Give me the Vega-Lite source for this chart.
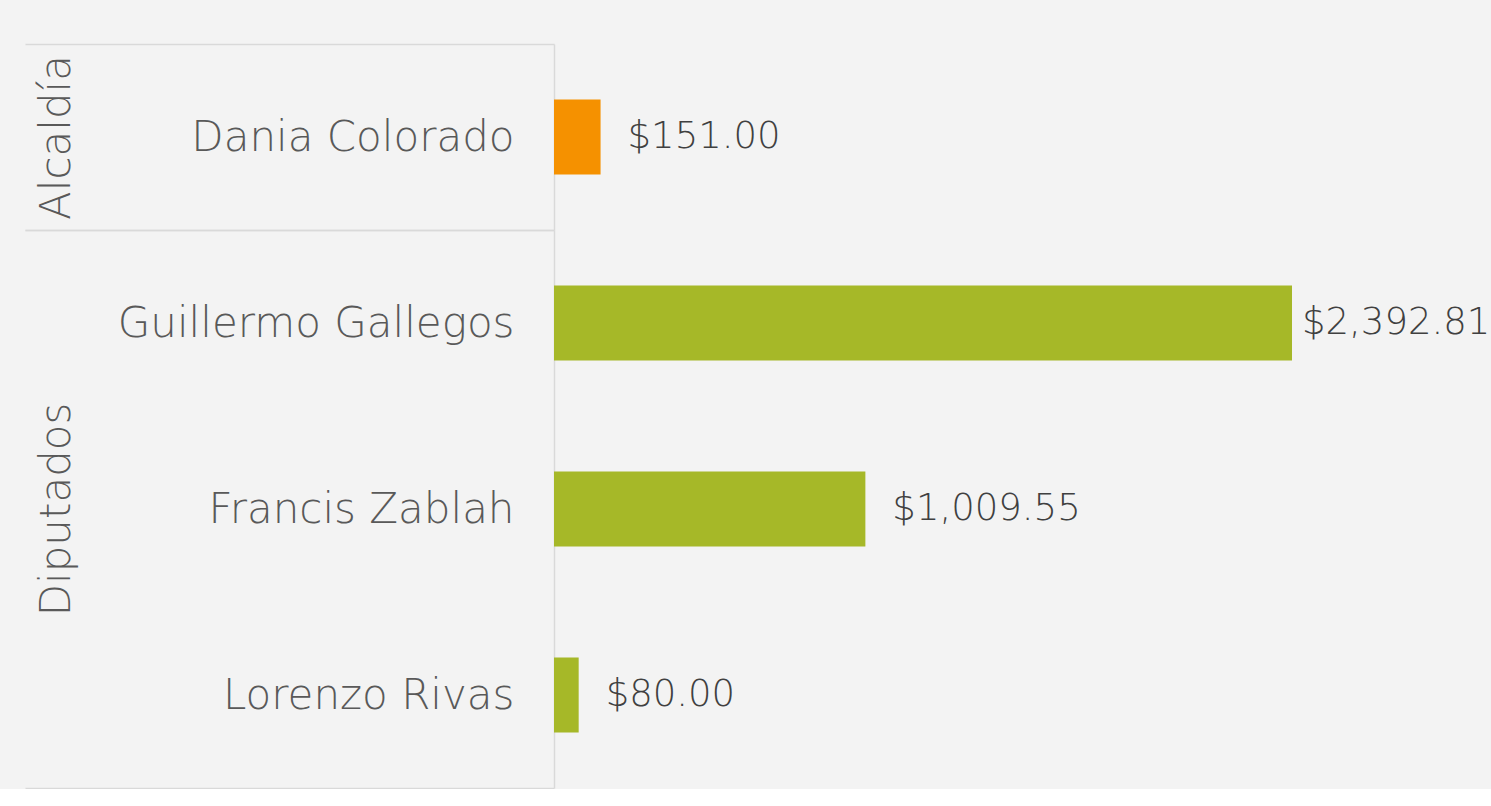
{
  "$schema": "https://vega.github.io/schema/vega-lite/v6.json",
  "background": "#f3f3f3",
  "padding": {"left": 24, "top": 23, "right": 0, "bottom": 0},
  "autosize": {"type": "pad"},
  "spacing": 0,
  "bounds": "flush",
  "data": {"values": [
    {"grupo": "Alcaldía", "nombre": "Dania Colorado", "monto": 151.00},
    {"grupo": "Diputados", "nombre": "Guillermo Gallegos", "monto": 2392.81},
    {"grupo": "Diputados", "nombre": "Francis Zablah", "monto": 1009.55},
    {"grupo": "Diputados", "nombre": "Lorenzo Rivas", "monto": 80.00}
  ]},
  "vconcat": [
    {
      "transform": [{"filter": "datum.grupo === 'Alcaldía'"}],
      "width": 937,
      "height": {"step": 186},
      "encoding": {
        "y": {
          "field": "nombre", "type": "nominal", "sort": null,
          "scale": {"paddingInner": 0, "paddingOuter": 0},
          "axis": {
            "title": "Alcaldía", "titleAngle": 270, "titleX": -498, "titleY": 93, "titleAlign": "center", "titleBaseline": "middle",
            "titleFont": "DejaVu Sans", "titleFontWeight": 200, "titleFontSize": 42, "titleColor": "#595959",
            "domain": true, "domainColor": "#d9d9d9", "domainWidth": 1.5,
            "ticks": true, "tickBand": "extent", "tickSize": 529, "tickColor": "#d9d9d9", "tickWidth": 1.5,
            "labelPadding": -489, "labelFont": "DejaVu Sans", "labelFontWeight": 200, "labelFontSize": 42, "labelColor": "#595959", "labelLimit": 700
          }
        },
        "x": {"field": "monto", "type": "quantitative", "scale": {"domain": [0, 3038], "nice": false}, "axis": null}
      },
      "layer": [
        {
          "mark": {"type": "bar", "size": 75},
          "encoding": {
            "color": {"field": "grupo", "type": "nominal", "scale": {"domain": ["Alcaldía", "Diputados"], "range": ["#f59100", "#a6b828"]}, "legend": null}
          }
        },
        {
          "mark": {"type": "text", "align": "left", "baseline": "middle", "dx": 27, "font": "DejaVu Sans", "fontWeight": 200, "fontSize": 37, "color": "#404040"},
          "encoding": {
            "text": {"field": "monto", "type": "quantitative", "format": "$,.2f"}
          }
        }
      ]
    },
    {
      "transform": [{"filter": "datum.grupo === 'Diputados'"}],
      "width": 937,
      "height": {"step": 186},
      "encoding": {
        "y": {
          "field": "nombre", "type": "nominal", "sort": null,
          "scale": {"paddingInner": 0, "paddingOuter": 0},
          "axis": {
            "title": "Diputados", "titleAngle": 270, "titleX": -498, "titleY": 279, "titleAlign": "center", "titleBaseline": "middle",
            "titleFont": "DejaVu Sans", "titleFontWeight": 200, "titleFontSize": 42, "titleColor": "#595959",
            "domain": true, "domainColor": "#d9d9d9", "domainWidth": 1.5,
            "ticks": true, "tickBand": "extent", "tickSize": 529, "tickColor": "#d9d9d9", "tickWidth": 1.5,
            "tickOpacity": {"condition": {"test": "datum.value === 'Guillermo Gallegos' || datum.value === 'Francis Zablah'", "value": 0}, "value": 1},
            "labelPadding": -489, "labelFont": "DejaVu Sans", "labelFontWeight": 200, "labelFontSize": 42, "labelColor": "#595959", "labelLimit": 700
          }
        },
        "x": {"field": "monto", "type": "quantitative", "scale": {"domain": [0, 3038], "nice": false}, "axis": null}
      },
      "layer": [
        {
          "mark": {"type": "bar", "size": 75},
          "encoding": {
            "color": {"field": "grupo", "type": "nominal", "scale": {"domain": ["Alcaldía", "Diputados"], "range": ["#f59100", "#a6b828"]}, "legend": null}
          }
        },
        {
          "mark": {"type": "text", "align": "left", "baseline": "middle", "dx": {"expr": "datum.monto > 2000 ? 10 : 27"}, "font": "DejaVu Sans", "fontWeight": 200, "fontSize": 37, "color": "#404040"},
          "encoding": {
            "text": {"field": "monto", "type": "quantitative", "format": "$,.2f"}
          }
        }
      ]
    }
  ],
  "config": {"view": {"stroke": null}}
}
